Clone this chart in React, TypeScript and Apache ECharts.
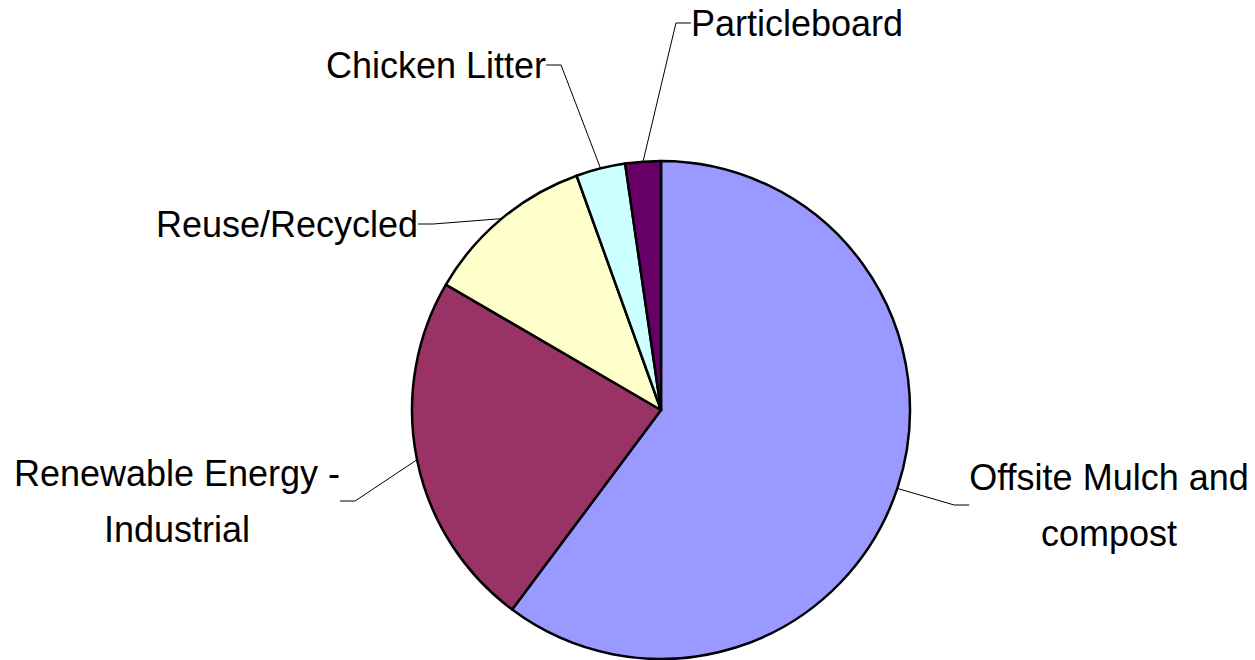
import React, { useEffect, useRef } from "react";
import * as echarts from "echarts";

const categories = [
  "Offsite Mulch and compost",
  "Renewable Energy - Industrial",
  "Reuse/Recycled",
  "Chicken Litter",
  "Particleboard",
];
const values = [60.2, 23.2, 11.1, 3.2, 2.3];
const labelTexts = [
  "Offsite Mulch and\ncompost",
  "Renewable Energy -\nIndustrial",
  "Reuse/Recycled",
  "Chicken Litter",
  "Particleboard",
];
const colors = ["#9999FF", "#993366", "#FFFFCC", "#CCFFFF", "#660066"];
const labelPositions = [
  [1109, 505],
  [177, 501],
  [287, 224],
  [436, 65],
  [797, 23],
];

export default function App() {
  const ref = useRef<HTMLDivElement>(null);
  useEffect(() => {
    document.body.style.margin = "0";
    const chart = echarts.init(ref.current!, null, { renderer: "svg" });
    chart.setOption({
      animation: false,
      backgroundColor: "#ffffff",
      series: [
        {
          type: "pie",
          center: [661, 410],
          radius: 249,
          startAngle: 90,
          clockwise: true,
          avoidLabelOverlap: false,
          data: categories.map((name, i) => ({
            name,
            value: values[i],
            itemStyle: { color: colors[i] },
          })),
          itemStyle: { borderColor: "#000000", borderWidth: 2.5 },
          label: {
            show: true,
            position: "outside",
            formatter: (p: any) => labelTexts[p.dataIndex],
            fontFamily: "Arial, 'Liberation Sans', sans-serif",
            fontSize: 36,
            lineHeight: 56,
            color: "#000000",
          },
          labelLine: {
            show: true,
            length: 15,
            length2: 15,
            lineStyle: { color: "#000000", width: 1 },
          },
          labelLayout: (params: any) => {
            const pos = labelPositions[params.dataIndex];
            return {
              x: pos[0],
              y: pos[1],
              align: "center",
              verticalAlign: "middle",
            };
          },
          emphasis: { disabled: true },
        },
      ],
    });
    return () => chart.dispose();
  }, []);
  return <div ref={ref} style={{ width: 1255, height: 660 }} />;
}
